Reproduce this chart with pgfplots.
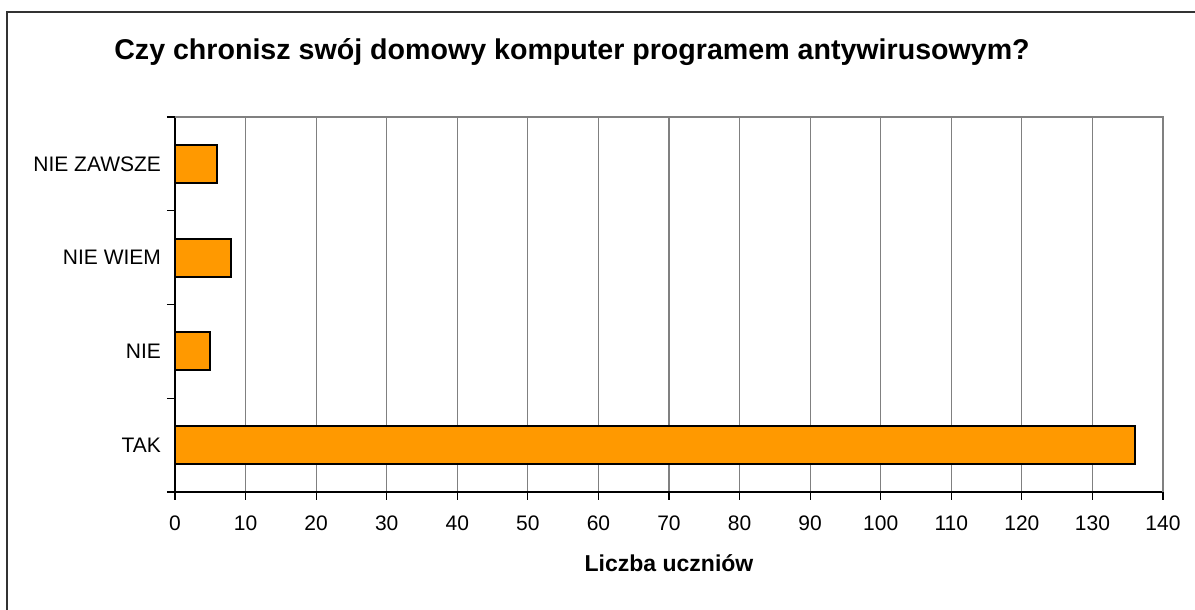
\documentclass[border=0pt]{standalone}
\usepackage{pgfplots}
\pgfplotsset{compat=1.18}
\usepackage{fontspec}
\setmainfont{Liberation Sans}
\definecolor{barorange}{HTML}{FF9900}
\definecolor{gridgray}{HTML}{808080}

\begin{document}
\begin{tikzpicture}
  % page = 1195 x 610 px, 0.5pt per px
  \useasboundingbox (0pt,0pt) rectangle (597.5pt,305pt);
  \draw[line width=1pt, black!80] (3.5pt,0pt) -- (3.5pt,299pt) -- (600pt,299pt);
  \node[font=\bfseries\fontsize{14.3}{16}\selectfont, anchor=base] at (286pt,275pt)
    {Czy chronisz swój domowy komputer programem antywirusowym?};

  \begin{axis}[
      at={(87.5pt,59pt)}, anchor=south west,
      scale only axis,
      width=494pt, height=187.5pt,
      xbar,
      bar width=19pt,
      xmin=0, xmax=140,
      ymin=-0.5, ymax=3.5,
      xtick={0,10,...,140},
      ytick={-0.5,0.5,1.5,2.5,3.5},
      yticklabels={},
      extra y ticks={0,1,2,3},
      extra y tick labels={TAK, NIE, NIE WIEM, NIE ZAWSZE},
      extra y tick style={major tick length=0pt, ymajorgrids=false},
      axis lines=left,
      axis line style={-, black, line width=0.8pt},
      tick align=outside,
      major tick length=4pt,
      tick style={black, line width=0.6pt},
      xmajorgrids=true,
      ymajorgrids=false,
      major grid style={gridgray, line width=0.6pt},
      ticklabel style={font=\fontsize{10.5}{12}\selectfont},
      xticklabel style={yshift=-4.5pt},
      yticklabel style={xshift=-3.5pt},
      /pgf/number format/assume math mode=true,
      xlabel={Liczba uczniów},
      xlabel style={font=\bfseries\fontsize{11.5}{13}\selectfont,
        at={(rel axis cs:0.5,0)}, anchor=center, yshift=-35.5pt},
      clip=false,
    ]
    \addplot[fill=barorange, draw=black, line width=1pt] coordinates {
      (136,0) (5,1) (8,2) (6,3)
    };
    \draw[gridgray, line width=1pt] (rel axis cs:0,1) -- (rel axis cs:1,1) -- (rel axis cs:1,0);
  \end{axis}
\end{tikzpicture}
\end{document}
